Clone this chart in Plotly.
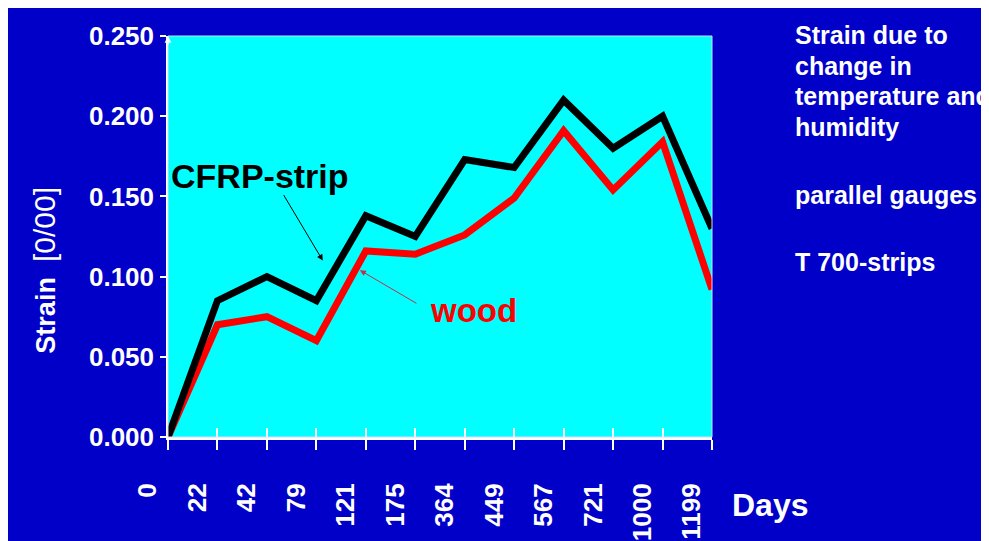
"""Strain of CFRP-strip and wood over time (temperature and humidity)."""

import plotly.graph_objects as go

days = ['0', '22', '42', '79', '121', '175', '364', '449', '567', '721', '1000', '1199']
cfrp_strain = [0.000, 0.085, 0.100, 0.085, 0.138, 0.125, 0.173, 0.168, 0.210, 0.180, 0.200, 0.130]
wood_strain = [0.000, 0.070, 0.075, 0.060, 0.116, 0.114, 0.126, 0.149, 0.191, 0.154, 0.184, 0.092]
y_ticks = [0.0, 0.05, 0.10, 0.15, 0.20, 0.25]
side_notes = ['Strain due to', 'change in', 'temperature and', 'humidity', 'parallel gauges', 'T 700-strips']
side_note_y = [1.0025, 0.925, 0.850, 0.773, 0.6035, 0.436]

BLUE = '#0000C8'
CYAN = '#00FFFF'
FONT = 'Liberation Sans, Arial, sans-serif'

fig = go.Figure()

# wood first so the CFRP line sits on top
fig.add_trace(go.Scatter(
    x=days, y=wood_strain, name='wood', mode='lines',
    line=dict(color='#FF0000', width=7), hoverinfo='skip'
))
fig.add_trace(go.Scatter(
    x=days, y=cfrp_strain, name='CFRP-strip', mode='lines',
    line=dict(color='#000000', width=7), hoverinfo='skip'
))
# invisible carrier for the inside half of the x ticks
fig.add_trace(go.Scatter(
    x=days, y=cfrp_strain, xaxis='x2', mode='lines', opacity=0,
    showlegend=False, hoverinfo='skip'
))

# page body adds an 8px white margin top/left, which plays the slide's white edge
fig.update_layout(
    width=981, height=533,
    margin=dict(l=160, r=277, t=28, b=104),
    paper_bgcolor=BLUE,
    plot_bgcolor=CYAN,
    showlegend=False,
    font=dict(family=FONT, color='white'),
    xaxis=dict(
        type='category', categoryarray=days, range=[0, 11],
        showgrid=False, zeroline=False, automargin=False,
        showline=True, linecolor='white', linewidth=3,
        ticks='outside', ticklen=10, tickcolor='white', tickwidth=1.5,
        tickangle=-90, ticklabelshift=-20, ticklabelstandoff=23,
        tickfont=dict(size=26, color='white', weight='bold'),
    ),
    xaxis2=dict(
        type='category', categoryarray=days, range=[0, 11],
        overlaying='x', anchor='y', side='bottom', automargin=False,
        showgrid=False, zeroline=False, showline=False,
        ticks='inside', ticklen=9, tickcolor='white', tickwidth=1.5,
        showticklabels=False,
    ),
    yaxis=dict(
        range=[0, 0.25], tickvals=y_ticks, tickformat='.3f',
        showgrid=False, zeroline=False, automargin=False,
        showline=True, linecolor='white', linewidth=1.5,
        ticks='outside', ticklen=6, tickcolor='white', tickwidth=1.5,
        ticklabelstandoff=1,
        tickfont=dict(size=26, color='white', weight='bold'),
    ),
)

# thin border of the plot area
fig.add_shape(type='rect', xref='paper', yref='paper', x0=0, x1=1, y0=0, y1=1,
              line=dict(color='#D8D8F8', width=1), layer='above')

annotations = [
    # y axis title
    dict(text='<b>Strain</b>  <span style="font-size:30px">[0/00]</span>',
         xref='paper', yref='paper', x=-0.226, y=0.415, textangle=-90,
         xanchor='center', yanchor='middle',
         showarrow=False, font=dict(size=27, color='white')),
    # little arrow at top of y axis
    dict(text='', xref='paper', yref='paper', x=0, y=1.0, ax=0, ay=10,
         showarrow=True, arrowhead=2, arrowsize=0.9, arrowwidth=1.5, arrowcolor='white'),
    # series labels and pointers
    dict(text='<b>CFRP-strip</b>', x=1.86, y=0.1627, xref='x', yref='y',
         showarrow=False, font=dict(size=34, color='black')),
    dict(text='', x=3.13, y=0.110, xref='x', yref='y', ax=-40, ay=-67,
         showarrow=True, arrowhead=2, arrowsize=1.2, arrowwidth=1, arrowcolor='black'),
    dict(text='<b>wood</b>', x=6.17, y=0.0786, xref='x', yref='y',
         showarrow=False, font=dict(size=33, color='#FF0000')),
    dict(text='', x=3.88, y=0.104, xref='x', yref='y', ax=58, ay=34,
         showarrow=True, arrowhead=2, arrowsize=1.2, arrowwidth=1, arrowcolor='#C0304A'),
    # axis label
    dict(text='<b>Days</b>', xref='paper', yref='paper', x=1.033, y=-0.17,
         xanchor='left', yanchor='middle', showarrow=False, font=dict(size=32, color='white')),
]
for note, ny in zip(side_notes, side_note_y):
    annotations.append(dict(text=f'<b>{note}</b>', xref='paper', yref='paper', x=1.149, y=ny,
                            xanchor='left', yanchor='middle', showarrow=False,
                            font=dict(size=25, color='white')))
for a in annotations:
    fig.add_annotation(**a)

fig.write_html('out.html')
